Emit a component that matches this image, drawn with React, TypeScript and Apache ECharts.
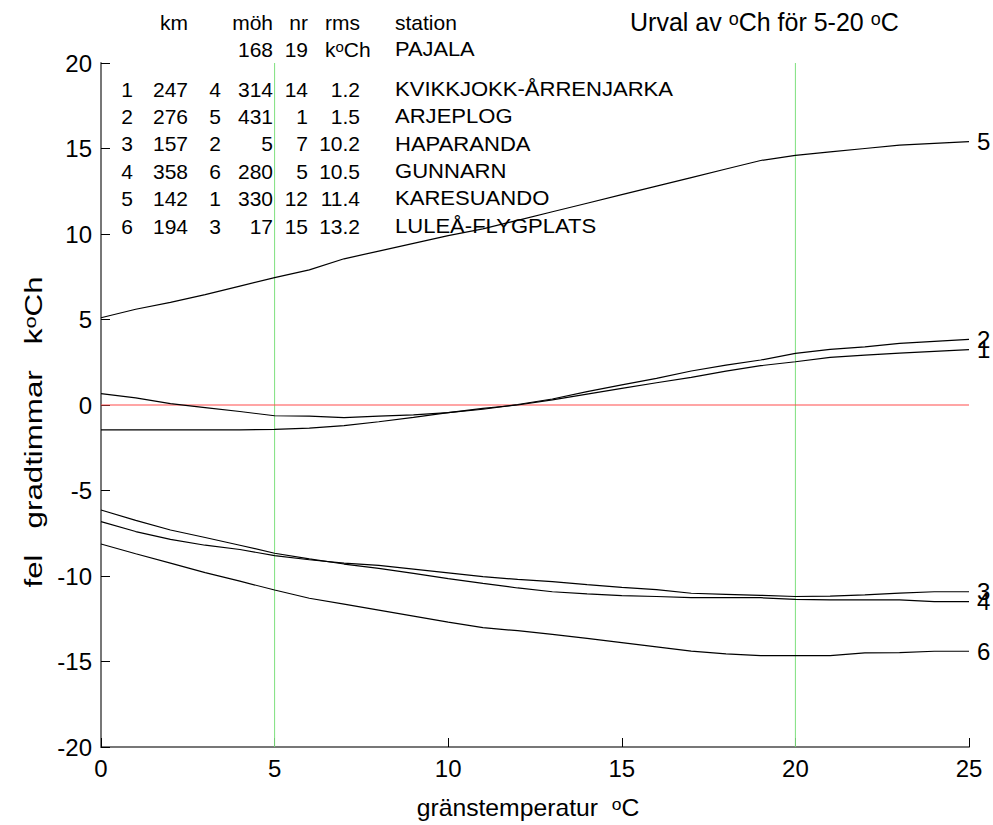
import React, { useEffect, useRef } from "react";
import * as echarts from "echarts";

const xValues = [0, 1, 2, 3, 4, 5, 6, 7, 8, 9, 10, 11, 12, 13, 14, 15, 16, 17, 18, 19, 20, 21, 22, 23, 24, 25];

const line1 = [-1.45, -1.45, -1.45, -1.45, -1.45, -1.42, -1.35, -1.21, -0.98, -0.72, -0.45, -0.2, 0.0, 0.3, 0.64, 0.97, 1.3, 1.62, 1.98, 2.3, 2.53, 2.79, 2.92, 3.03, 3.14, 3.24];
const line2 = [0.66, 0.42, 0.08, -0.15, -0.38, -0.63, -0.65, -0.74, -0.65, -0.58, -0.45, -0.25, 0.03, 0.35, 0.78, 1.18, 1.56, 1.99, 2.33, 2.63, 3.02, 3.25, 3.4, 3.6, 3.72, 3.84];
const line3 = [-6.82, -7.4, -7.86, -8.2, -8.45, -8.81, -9.05, -9.25, -9.38, -9.6, -9.82, -10.04, -10.2, -10.33, -10.5, -10.66, -10.8, -11.01, -11.07, -11.13, -11.2, -11.18, -11.1, -11.0, -10.92, -10.92];
const line4 = [-6.14, -6.75, -7.31, -7.75, -8.2, -8.67, -9.0, -9.3, -9.55, -9.85, -10.15, -10.43, -10.7, -10.92, -11.05, -11.15, -11.2, -11.27, -11.27, -11.27, -11.37, -11.4, -11.4, -11.4, -11.5, -11.5];
const line5 = [5.1, 5.6, 6.0, 6.45, 6.95, 7.45, 7.9, 8.55, 9.0, 9.45, 9.9, 10.3, 10.8, 11.3, 11.8, 12.3, 12.8, 13.3, 13.8, 14.3, 14.6, 14.8, 15.0, 15.2, 15.3, 15.4];
const line6 = [-8.13, -8.7, -9.25, -9.8, -10.3, -10.82, -11.3, -11.65, -12.0, -12.35, -12.7, -13.02, -13.2, -13.41, -13.65, -13.9, -14.15, -14.39, -14.55, -14.66, -14.66, -14.66, -14.5, -14.48, -14.4, -14.4];

const seriesNames = ["1", "2", "3", "4", "5", "6"];
const seriesValues = [line1, line2, line3, line4, line5, line6];

const xTicks = [0, 5, 10, 15, 20, 25];
const yTicks = [-20, -15, -10, -5, 0, 5, 10, 15, 20];
const markedTemps = [5, 20];
const zeroLevel = 0;
const xRange = [0, 25];
const yRange = [-20, 20];

// station table
const rowNr = ["1", "2", "3", "4", "5", "6"];
const rowKm = ["247", "276", "157", "358", "142", "194"];
const rowRank = ["4", "5", "2", "6", "1", "3"];
const rowMoh = ["314", "431", "5", "280", "330", "17"];
const rowNrObs = ["14", "1", "7", "5", "12", "15"];
const rowRms = ["1.2", "1.5", "10.2", "10.5", "11.4", "13.2"];
const rowStation = ["KVIKKJOKK-ÅRRENJARKA", "ARJEPLOG", "HAPARANDA", "GUNNARN", "KARESUANDO", "LULEÅ-FLYGPLATS"];
const headerLabels = ["km", "möh", "nr", "rms", "station"];
const refStation = { moh: "168", nr: "19", name: "PAJALA" };

const FONT = "'Liberation Sans', Arial, Helvetica, sans-serif";

export default function App() {
  const ref = useRef<HTMLDivElement>(null);
  useEffect(() => {
    if (!ref.current) return;
    const chart = echarts.init(ref.current, null, { renderer: "svg" });

    const tableFont = `21px ${FONT}`;
    const sup = { fontSize: 14, fontFamily: FONT, verticalAlign: "top", lineHeight: 14, fill: "#000" };
    const txt = (x: number, y: number, text: string, align: string, font = tableFont, rich?: any, extra: any = {}) => ({
      type: "text",
      x,
      y,
      silent: true,
      ...extra,
      style: {
        text,
        font,
        fill: "#000",
        align,
        textAlign: align,
        verticalAlign: "middle",
        textVerticalAlign: "middle",
        ...(rich ? { rich } : {}),
      },
    });

    const graphics: any[] = [];
    // header
    graphics.push(txt(188, 22, headerLabels[0], "right"));
    graphics.push(txt(273, 22, headerLabels[1], "right"));
    graphics.push(txt(308, 22, headerLabels[2], "right"));
    graphics.push(txt(360, 22, headerLabels[3], "right"));
    graphics.push(txt(395, 22, headerLabels[4], "left"));
    // reference station row
    graphics.push(txt(273, 49, refStation.moh, "right"));
    graphics.push(txt(308, 49, refStation.nr, "right"));
    graphics.push(
      txt(325, 49, "k{s|o}Ch", "left", tableFont, {
        s: { fontSize: 15, fontFamily: FONT, verticalAlign: "top", lineHeight: 15, fill: "#000" },
      })
    );
    graphics.push(txt(395, 49, refStation.name, "left", tableFont, undefined, { scaleX: 1.04 }));
    rowNr.forEach((_, i) => {
      const y = 89 + i * 27.4;
      graphics.push(txt(133, y, rowNr[i], "right"));
      graphics.push(txt(188, y, rowKm[i], "right"));
      graphics.push(txt(221, y, rowRank[i], "right"));
      graphics.push(txt(273, y, rowMoh[i], "right"));
      graphics.push(txt(308, y, rowNrObs[i], "right"));
      graphics.push(txt(360, y, rowRms[i], "right"));
      graphics.push(txt(395, y, rowStation[i], "left", tableFont, undefined, { scaleX: 1.05 }));
    });
    // title
    graphics.push(
      txt(630, 22, "Urval av {s|o}Ch för 5-20 {s|o}C", "left", `25px ${FONT}`, {
        s: { ...sup, fontSize: 18, lineHeight: 18 },
      })
    );
    // x-axis name
    graphics.push(
      txt(528, 808, "gränstemperatur  {s|o}C", "center", `24px ${FONT}`, {
        s: { ...sup, fontSize: 17, lineHeight: 17 },
      }, { scaleX: 1.03 })
    );
    // y-axis name (rotated)
    graphics.push({
      type: "text",
      x: 34,
      y: 432,
      rotation: Math.PI / 2,
      scaleX: 1.36,
      silent: true,
      style: {
        text: "fel   gradtimmar   k{s|o}Ch",
        font: `23px ${FONT}`,
        fill: "#000",
        align: "center",
        textAlign: "center",
        verticalAlign: "middle",
        textVerticalAlign: "middle",
        rich: { s: { ...sup, fontSize: 16, lineHeight: 16 } },
      },
    });

    const series: any[] = [];
    markedTemps.forEach((t) => {
      series.push({
        name: "T" + t,
        type: "line",
        data: yRange.map((y) => [t, y]),
        showSymbol: false,
        symbol: "none",
        silent: true,
        lineStyle: { color: "#7ee07e", width: 1 },
        z: 1,
      });
    });
    series.push({
      name: "zero",
      type: "line",
      data: xRange.map((x) => [x, zeroLevel]),
      showSymbol: false,
      symbol: "none",
      silent: true,
      lineStyle: { color: "#ff4d4d", width: 1.2 },
      z: 2,
    });
    seriesValues.forEach((vals, i) => {
      series.push({
        name: seriesNames[i],
        type: "line",
        data: xValues.map((x, j) => [x, vals[j]]),
        showSymbol: false,
        symbol: "none",
        lineStyle: { color: "#000", width: 1.2 },
        z: 3,
        endLabel: {
          show: true,
          formatter: seriesNames[i],
          distance: 8,
          fontSize: 24,
          fontFamily: FONT,
          color: "#000",
        },
      });
    });

    chart.setOption({
      animation: false,
      backgroundColor: "#fff",
      grid: { left: 101, right: 24, top: 63, bottom: 78, containLabel: false },
      xAxis: {
        type: "value",
        min: 0,
        max: 25,
        interval: 5,
        axisLine: { show: true, onZero: false, lineStyle: { color: "#777", width: 2 } },
        axisTick: { show: true, inside: true, length: 9, lineStyle: { color: "#000", width: 1 } },
        axisLabel: {
          margin: 9,
          fontSize: 24,
          fontFamily: FONT,
          color: "#000",
          formatter: (v: number) => (xTicks.includes(v) ? String(v) : ""),
        },
        splitLine: { show: false },
      },
      yAxis: {
        type: "value",
        min: -20,
        max: 20,
        interval: 5,
        axisLine: { show: true, onZero: false, lineStyle: { color: "#777", width: 2 } },
        axisTick: { show: true, inside: true, length: 9, lineStyle: { color: "#000", width: 1 } },
        axisLabel: {
          margin: 9,
          fontSize: 24,
          fontFamily: FONT,
          color: "#000",
          formatter: (v: number) => (yTicks.includes(v) ? String(v) : ""),
        },
        splitLine: { show: false },
      },
      series,
      graphic: graphics,
    });

    return () => chart.dispose();
  }, []);

  return <div ref={ref} style={{ width: 993, height: 825, position: "absolute", left: 0, top: 0 }} />;
}
